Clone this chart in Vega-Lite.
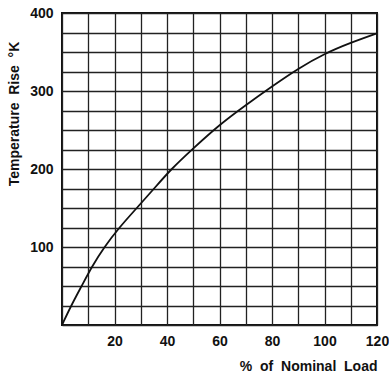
{
  "$schema": "https://vega.github.io/schema/vega-lite/v6.json",
  "width": 315,
  "height": 312,
  "autosize": {"type": "none"},
  "padding": {"left": 62, "top": 13, "right": 12, "bottom": 49},
  "background": "white",
  "config": {
    "view": {"stroke": "#111", "strokeWidth": 2},
    "axis": {
      "labelFont": "Liberation Sans",
      "titleFont": "Liberation Sans",
      "labelFontSize": 14,
      "titleFontSize": 14,
      "labelFontWeight": "bold",
      "titleFontWeight": "bold",
      "labelColor": "#111",
      "titleColor": "#111",
      "gridColor": "#222",
      "gridWidth": 1.3,
      "gridOpacity": 1,
      "ticks": false,
      "domain": false
    }
  },
  "data": {
    "values": [
      {"load": 0, "rise": 0},
      {"load": 3.5, "rise": 25},
      {"load": 7.5, "rise": 50},
      {"load": 11.4, "rise": 75},
      {"load": 16.1, "rise": 100},
      {"load": 21.8, "rise": 125},
      {"load": 28.5, "rise": 150},
      {"load": 35.1, "rise": 175},
      {"load": 41.6, "rise": 200},
      {"load": 49.5, "rise": 225},
      {"load": 60, "rise": 257},
      {"load": 70, "rise": 282},
      {"load": 80, "rise": 306},
      {"load": 90, "rise": 329},
      {"load": 100, "rise": 348},
      {"load": 110, "rise": 362},
      {"load": 120, "rise": 374}
    ]
  },
  "mark": {"type": "line", "color": "#111", "strokeWidth": 1.8, "interpolate": "basis", "clip": true},
  "encoding": {
    "x": {
      "field": "load",
      "type": "quantitative",
      "scale": {"domain": [0, 120], "nice": false},
      "axis": {
        "values": [0, 10, 20, 30, 40, 50, 60, 70, 80, 90, 100, 110, 120],
        "labelExpr": "datum.value % 20 == 0 && datum.value > 0 ? datum.label : ''",
        "labelPadding": 9,
        "labelFlush": false,
        "labelOverlap": false,
        "title": "%\u00a0\u00a0of\u00a0\u00a0Nominal\u00a0\u00a0Load",
        "titleAnchor": "end",
        "titleAlign": "right",
        "titleX": 315,
        "titleY": 45.5,
        "titleBaseline": "alphabetic"
      }
    },
    "y": {
      "field": "rise",
      "type": "quantitative",
      "scale": {"domain": [0, 400], "nice": false},
      "axis": {
        "values": [0, 25, 50, 75, 100, 125, 150, 175, 200, 225, 250, 275, 300, 325, 350, 375, 400],
        "labelExpr": "datum.value % 100 == 0 && datum.value > 0 ? datum.label : ''",
        "labelPadding": 9,
        "labelFlush": false,
        "labelOverlap": false,
        "title": "Temperature\u00a0\u00a0Rise\u00a0\u00a0°K",
        "titleAngle": 270,
        "titleAlign": "center",
        "titleBaseline": "alphabetic",
        "titleX": -43.5,
        "titleY": 100.5
      }
    }
  }
}
